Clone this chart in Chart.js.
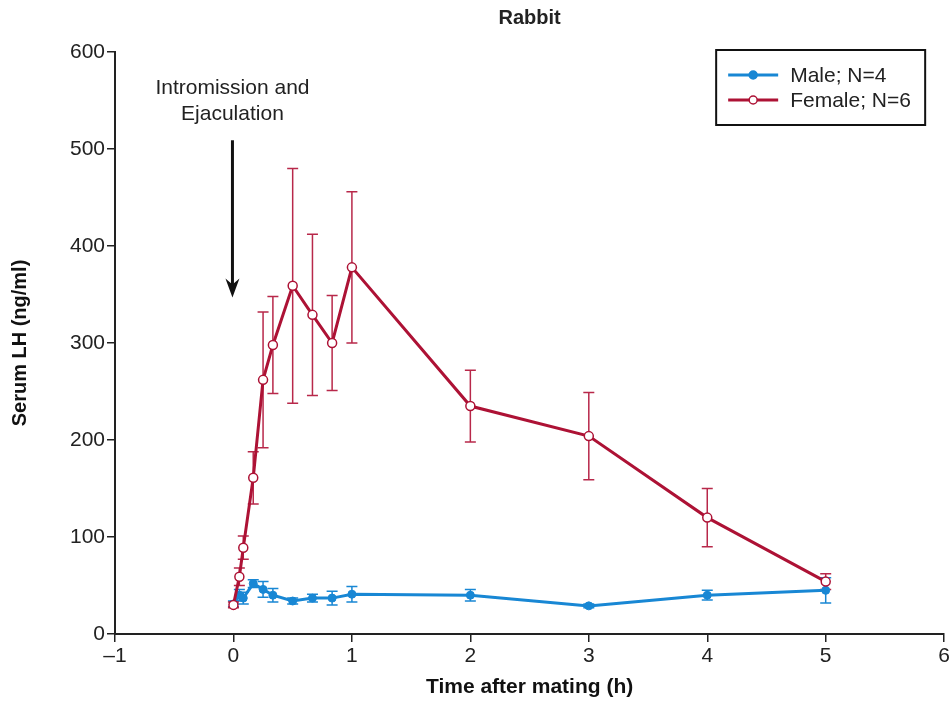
<!DOCTYPE html>
<html>
<head>
<meta charset="utf-8">
<script src="https://cdn.jsdelivr.net/npm/chart.js@4"></script>
<style>
  html, body { margin: 0; padding: 0; background: #fff; }
  #wrap { width: 952px; height: 703px; position: relative; }
</style>
</head>
<body>
<div id="wrap"><canvas id="lhChart"></canvas></div>
<script>
// time after mating, hours
const timesH = [0, 0.05, 0.083, 0.167, 0.25, 0.333, 0.5, 0.667, 0.833, 1, 2, 3, 4, 5];
// serum LH (ng/ml), mean and error
const maleLH = [31, 40, 37, 52, 46, 40, 34, 37, 37, 41, 40, 29, 40, 45];
const maleErr = [3, 6, 6, 4, 8, 7, 3, 4, 7, 8, 6, 2, 5, 13];
const femaleLH = [30, 59, 89, 161, 262, 298, 359, 329, 300, 378, 235, 204, 120, 54];
const femaleErr = [3, 9, 12, 27, 70, 50, 121, 83, 49, 78, 37, 45, 30, 8];
const xTicks = [-1, 0, 1, 2, 3, 4, 5, 6];
const yTicks = [0, 100, 200, 300, 400, 500, 600];

const BLUE = '#1887d4';
const RED = '#ad1235';
const FONT = '"Liberation Sans", Arial, sans-serif';

Chart.defaults.font.family = FONT;
Chart.defaults.color = '#222';

const toPoints = (vals) => vals.map((v, i) => ({ x: timesH[i], y: v }));

// error bars drawn under the lines and markers
const errorBars = {
  id: 'errorBars',
  beforeDatasetsDraw(chart) {
    const { ctx, scales: { x, y } } = chart;
    chart.data.datasets.forEach((ds) => {
      ctx.save();
      ctx.strokeStyle = ds.errorColor;
      ctx.lineWidth = 1.5;
      ds.data.forEach((pt, j) => {
        const px = x.getPixelForValue(pt.x);
        const top = y.getPixelForValue(pt.y + ds.errors[j]);
        const bot = y.getPixelForValue(pt.y - ds.errors[j]);
        ctx.beginPath();
        ctx.moveTo(px, top); ctx.lineTo(px, bot);
        ctx.moveTo(px - 5.5, top); ctx.lineTo(px + 5.5, top);
        ctx.moveTo(px - 5.5, bot); ctx.lineTo(px + 5.5, bot);
        ctx.stroke();
      });
      ctx.restore();
    });
  }
};

// arrow + label, and the boxed legend
const extras = {
  id: 'extras',
  afterDraw(chart) {
    const { ctx, chartArea, scales: { x, y } } = chart;
    ctx.save();
    // annotation
    const ax = x.getPixelForValue(0);
    ctx.fillStyle = '#222';
    ctx.font = '21px ' + FONT;
    ctx.textAlign = 'center';
    ctx.textBaseline = 'middle';
    ctx.fillText('Intromission and', ax - 1, y.getPixelForValue(563));
    ctx.fillText('Ejaculation', ax - 1, y.getPixelForValue(536));
    const aTop = y.getPixelForValue(509);
    const aTip = y.getPixelForValue(347);
    ctx.strokeStyle = '#111';
    ctx.lineWidth = 3;
    ctx.beginPath();
    ctx.moveTo(ax - 1, aTop);
    ctx.lineTo(ax - 1, aTip - 10);
    ctx.stroke();
    ctx.fillStyle = '#111';
    ctx.beginPath();
    ctx.moveTo(ax - 1, aTip);
    ctx.lineTo(ax - 8, aTip - 19);
    ctx.lineTo(ax - 1, aTip - 13);
    ctx.lineTo(ax + 6, aTip - 19);
    ctx.closePath();
    ctx.fill();

    // legend box
    const bw = 209, bh = 75;
    const bx = chartArea.right - 19 - bw;
    const by = chartArea.top - 2;
    ctx.strokeStyle = '#111';
    ctx.lineWidth = 2;
    ctx.strokeRect(bx, by, bw, bh);
    const rows = [
      { label: 'Male; N=4', color: BLUE, fill: BLUE },
      { label: 'Female; N=6', color: RED, fill: '#fff' }
    ];
    ctx.textAlign = 'left';
    rows.forEach((r, i) => {
      const ry = by + 25 + i * 25;
      ctx.strokeStyle = r.color;
      ctx.lineWidth = 3;
      ctx.beginPath();
      ctx.moveTo(bx + 12, ry);
      ctx.lineTo(bx + 62, ry);
      ctx.stroke();
      ctx.beginPath();
      ctx.arc(bx + 37, ry, 4, 0, Math.PI * 2);
      ctx.fillStyle = r.fill;
      ctx.fill();
      ctx.lineWidth = 1.5;
      ctx.stroke();
      ctx.fillStyle = '#222';
      ctx.font = '21px ' + FONT;
      ctx.fillText(r.label, bx + 74, ry + 1);
    });
    ctx.restore();
  }
};

const ctx = document.getElementById('lhChart').getContext('2d');
const lhChart = new Chart(ctx, {
  type: 'line',
  data: {
    datasets: [
      {
        label: 'Male; N=4',
        data: toPoints(maleLH),
        errors: maleErr,
        errorColor: BLUE,
        borderColor: BLUE,
        backgroundColor: BLUE,
        borderWidth: 3,
        pointRadius: 4,
        pointBorderWidth: 1,
        pointBackgroundColor: BLUE,
        order: 1
      },
      {
        label: 'Female; N=6',
        data: toPoints(femaleLH),
        errors: femaleErr,
        errorColor: '#b8284a',
        borderColor: RED,
        backgroundColor: '#fff',
        borderWidth: 3,
        pointRadius: 4.5,
        pointBorderWidth: 1.5,
        pointBackgroundColor: '#fff',
        order: 0
      }
    ]
  },
  options: {
    responsive: true,
    maintainAspectRatio: false,
    animation: false,
    layout: { padding: { left: 0, right: 2, top: 0, bottom: 0 } },
    plugins: {
      legend: { display: false },
      tooltip: { enabled: false },
      title: {
        display: true,
        text: 'Rabbit',
        fullSize: false,
        color: '#222',
        font: { size: 20, weight: 'bold' },
        padding: { top: 6, bottom: 22 }
      }
    },
    scales: {
      x: {
        type: 'linear',
        min: -1,
        max: 6,
        afterBuildTicks: (s) => { s.ticks = xTicks.map(v => ({ value: v })); },
        afterFit: (s) => { s.height = 69; },
        border: { display: true, color: '#222', width: 2 },
        grid: { drawOnChartArea: false, drawTicks: true, tickLength: 8, color: '#222', lineWidth: 1.5 },
        ticks: {
          padding: 2,
          color: '#222',
          font: { size: 21 },
          callback: (v) => v < 0 ? '\u2013' + Math.abs(v) : String(v)
        },
        title: {
          display: true,
          text: 'Time after mating (h)',
          color: '#111',
          font: { size: 21, weight: 'bold' },
          padding: { top: 3, bottom: 3 }
        }
      },
      y: {
        min: 0,
        max: 600,
        afterBuildTicks: (s) => { s.ticks = yTicks.map(v => ({ value: v })); },
        afterFit: (s) => { s.width = 115; },
        border: { display: true, color: '#222', width: 2 },
        grid: { drawOnChartArea: false, drawTicks: true, tickLength: 8, color: '#222', lineWidth: 1.5 },
        ticks: { padding: 2, color: '#222', font: { size: 21 } },
        title: {
          display: true,
          text: 'Serum LH (ng/ml)',
          color: '#111',
          font: { size: 20, weight: 'bold' },
          padding: { top: 8, bottom: 0 }
        }
      }
    }
  },
  plugins: [errorBars, extras]
});
</script>
</body>
</html>
